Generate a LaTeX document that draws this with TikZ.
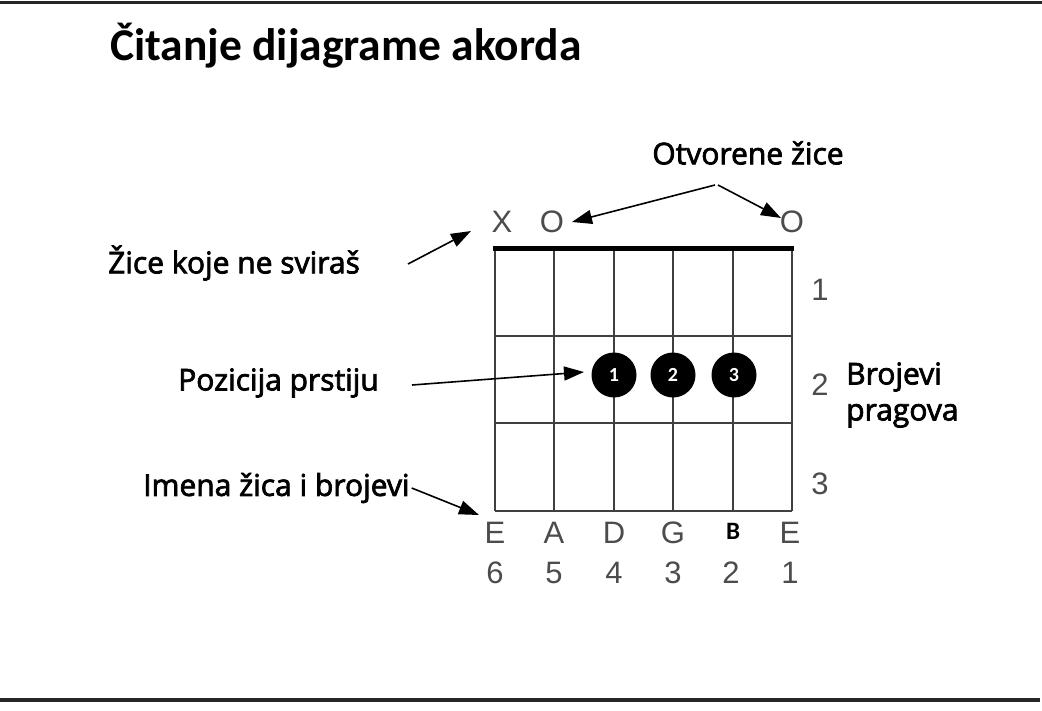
\documentclass[tikz,border=0pt]{standalone}
\usepackage{fontspec}
\setmainfont{Carlito}
\newfontfamily\arialf{Liberation Sans}
\newfontfamily\lblf[FakeBold=2.5]{Open Sans}
\usetikzlibrary{arrows.meta}
\begin{document}
\begin{tikzpicture}[x=1pt,y=-1pt,
 lbl/.style={font=\lblf\fontsize{30}{36}\selectfont, inner sep=0pt},
 gl/.style={font=\arialf\fontsize{31}{36}\selectfont, text=black!70, inner sep=0pt},
 ptr/.style={line width=1.6pt, -{Triangle[length=20pt,width=14pt]}},
 gridline/.style={line width=1.4pt, black!75},
 fdot/.style={circle, fill=black, minimum size=45pt, inner sep=0pt, text=white, font=\bfseries\fontsize{20}{20}\selectfont}]
\useasboundingbox (0,0) rectangle (1042,710);
% frame lines
\draw[line width=3pt, black!85] (0,2) -- (1042,2);
\draw[line width=4pt, black!85] (0,700) -- (1040,700);
% title
\node[anchor=west, inner sep=0pt, font=\bfseries\fontsize{45.5}{50}\selectfont] (title) at (110,46) {Čitanje dijagrame akorda};
% grid
\foreach \x in {495,554,614,673,733,792} \draw[gridline] (\x,248) -- (\x,511);
\foreach \y in {336,423,511} \draw[gridline] (495,\y) -- (792,\y);
\draw[line width=5pt, black] (493,248) -- (794,248);
% top markers
\node[gl] (mx) at (502,222) {X};
\node[gl] (o5) at (552,222) {O};
\node[gl] (o1) at (792,222) {O};
% fret numbers
\node[gl] (f1) at (820,290) {1};
\node[gl] (f2) at (820,385) {2};
\node[gl] (f3) at (820,484) {3};
% finger dots
\node[fdot] (d1) at (614,375) {1};
\node[fdot] (d2) at (673,375) {2};
\node[fdot] (d3) at (734,375) {3};
% string names
\node[gl] (s6) at (495,533) {E};
\node[gl] (s5) at (554,533) {A};
\node[gl] (s4) at (614,533) {D};
\node[gl] (s3) at (673,533) {G};
\node[inner sep=0pt, font=\bfseries\fontsize{25}{26}\selectfont] (s2) at (733,531) {B};
\node[gl] (s1) at (790,533) {E};
\node[gl] (n6) at (495,573) {6};
\node[gl] (n5) at (554,573) {5};
\node[gl] (n4) at (614,573) {4};
\node[gl] (n3) at (673,573) {3};
\node[gl] (n2) at (731,573) {2};
\node[gl] (n1) at (790,573) {1};
% annotation labels
\node[lbl] (otv) at (748,153) {Otvorene žice};
\node[lbl, anchor=west] (zice) at (108,263) {Žice koje ne sviraš};
\node[lbl, anchor=west] (poz) at (178,383) {Pozicija prstiju};
\node[lbl, anchor=west] (ime) at (143,488) {Imena žica i brojevi};
\node[lbl, anchor=west, align=left] (brp) at (846,395) {Brojevi\\pragova};
% connector end points
\coordinate (otvc) at (715,185);
\coordinate (tx) at (471,231);
\coordinate (to5) at (572,222);
\coordinate (to1) at (781,218);
\coordinate (td) at (584,372);
\coordinate (ts) at (479,515);
\coordinate (zs) at (408,264);
\coordinate (ps) at (412,385);
% connectors
\draw[ptr] (zs) -- (tx);
\draw[ptr] (otvc) -- (to5);
\draw[ptr] (otvc) ++(3,0) -- (to1);
\draw[ptr] (ps) -- (td);
\draw[ptr] (ime.east) ++(2,0) -- (ts);
\end{tikzpicture}
\end{document}
